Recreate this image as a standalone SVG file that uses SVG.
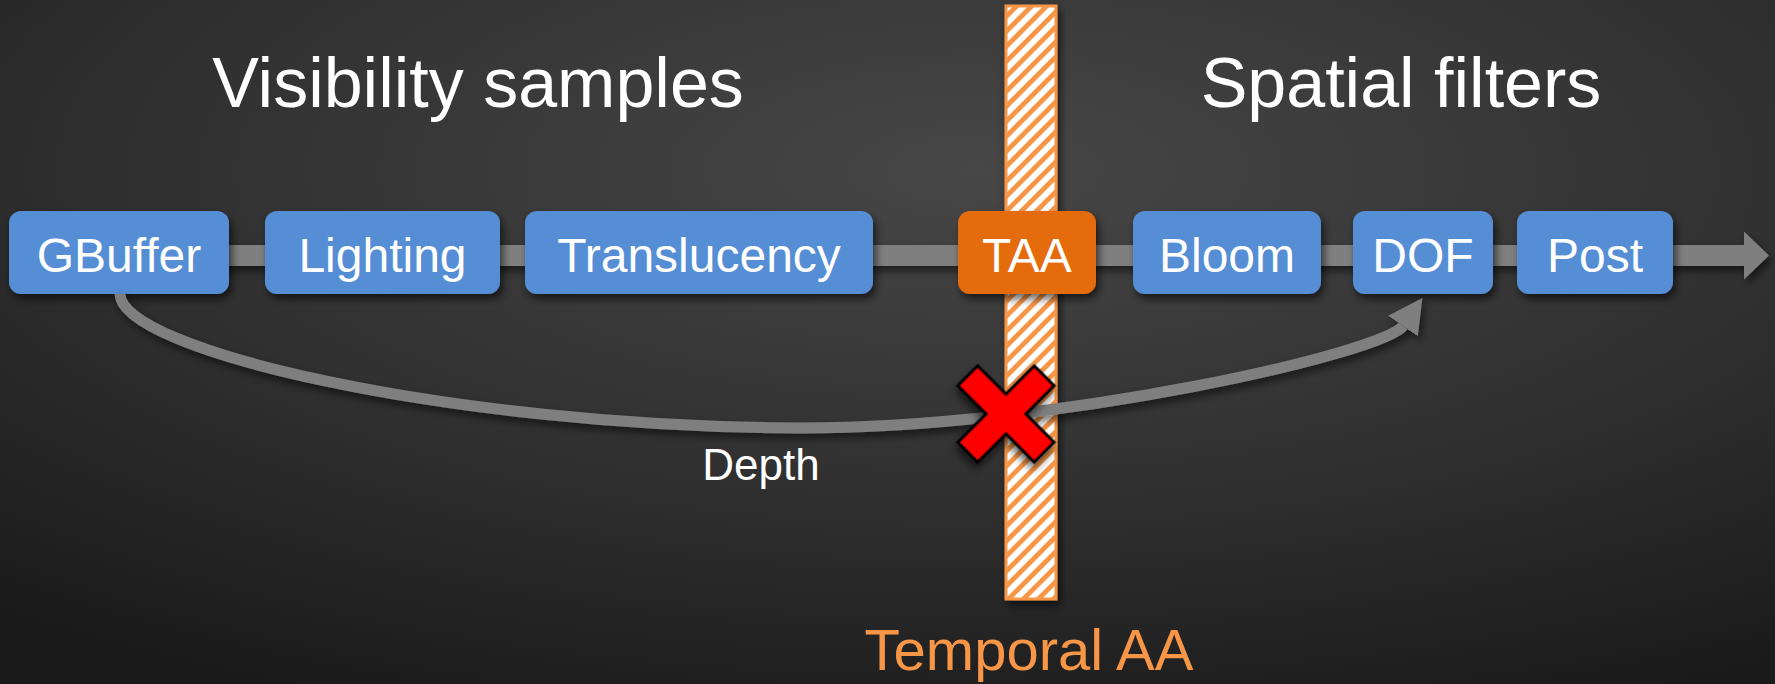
<svg xmlns="http://www.w3.org/2000/svg" width="1775" height="684" viewBox="0 0 1775 684">
<defs>
<radialGradient id="bg" cx="0.55" cy="0.25" r="0.85" gradientUnits="objectBoundingBox">
<stop offset="0" stop-color="#474747"/>
<stop offset="0.6" stop-color="#2e2e2e"/>
<stop offset="1" stop-color="#1a1a1a"/>
</radialGradient>
<pattern id="hatch" patternUnits="userSpaceOnUse" width="10.6" height="10.6" patternTransform="rotate(45)">
<rect x="0" y="0" width="10.6" height="10.6" fill="#ffffff"/>
<rect x="0" y="0" width="4.8" height="10.6" fill="#F79646"/>
</pattern>
<filter id="sh" x="-20%" y="-20%" width="140%" height="160%">
<feDropShadow dx="3" dy="5" stdDeviation="4" flood-color="#000" flood-opacity="0.6"/>
</filter>
<filter id="shc" filterUnits="userSpaceOnUse" x="0" y="0" width="1775" height="684">
<feDropShadow dx="3" dy="5" stdDeviation="4" flood-color="#000" flood-opacity="0.55"/>
</filter>
<marker id="bigHead" markerUnits="userSpaceOnUse" markerWidth="30" markerHeight="50" refX="0" refY="24" orient="auto">
<path d="M0,0 L25,24 L0,48 z" fill="#7f7f7f"/>
</marker>
<marker id="smallHead" markerUnits="userSpaceOnUse" markerWidth="40" markerHeight="40" refX="0" refY="18" orient="auto">
<path d="M0,0 L34,18 L0,36 z" fill="#7f7f7f"/>
</marker>
<style>
.box{fill:#558ED5;filter:url(#sh)}
.taa{fill:#E46C0A;filter:url(#sh)}
.lbl{font-family:"Liberation Sans",Arial,sans-serif;font-size:48px;fill:#ffffff;text-anchor:middle}
.title{font-family:"Liberation Sans",Arial,sans-serif;font-size:70px;fill:#ffffff;text-anchor:middle}
.conn{fill:none;stroke:#7f7f7f;filter:url(#shc)}
</style>
</defs>
<rect x="0" y="0" width="1775" height="684" fill="url(#bg)"/>

<g id="temporal-bar">
<rect x="1006" y="6" width="50" height="593" fill="url(#hatch)" stroke="#F79646" stroke-width="3" filter="url(#sh)"/>
</g>

<g id="connectors">
<path class="conn" d="M20,255.5 L1744,255.5" stroke-width="21" marker-end="url(#bigHead)"/>
</g>

<g id="titles">
<text class="title" x="478" y="107">Visibility samples</text>
<text class="title" x="1401" y="107">Spatial filters</text>
</g>

<g id="node-gbuffer"><rect class="box" x="9" y="211" width="220" height="83" rx="12"/><text class="lbl" x="119" y="272">GBuffer</text></g>
<g id="node-lighting"><rect class="box" x="265" y="211" width="235" height="83" rx="12"/><text class="lbl" x="382.5" y="272">Lighting</text></g>
<g id="node-translucency"><rect class="box" x="525" y="211" width="348" height="83" rx="12"/><text class="lbl" x="699" y="272">Translucency</text></g>
<g id="node-taa"><rect class="taa" x="958" y="211" width="138" height="83" rx="12"/><text class="lbl" x="1027" y="272">TAA</text></g>
<g id="node-bloom"><rect class="box" x="1133" y="211" width="188" height="83" rx="12"/><text class="lbl" x="1227" y="272">Bloom</text></g>
<g id="node-dof"><rect class="box" x="1353" y="211" width="140" height="83" rx="12"/><text class="lbl" x="1423" y="272">DOF</text></g>
<g id="node-post"><rect class="box" x="1517" y="211" width="156" height="83" rx="12"/><text class="lbl" x="1595" y="272">Post</text></g>

<g id="depth-connector">
<path class="conn" d="M120,294 C120,350 450,427 800,428 C1060,428 1385,352 1403,326" stroke-width="11" marker-end="url(#smallHead)"/>
<text x="761" y="480" font-family="'Liberation Sans',Arial,sans-serif" font-size="44" fill="#ffffff" text-anchor="middle">Depth</text>
</g>

<g id="cross">
<polygon transform="translate(1006,414) rotate(45)" points="-14,-54 14,-54 14,-14 54,-14 54,14 14,14 14,54 -14,54 -14,14 -54,14 -54,-14 -14,-14" fill="#ff0000" stroke="#000000" stroke-width="3" stroke-linejoin="miter" filter="url(#sh)"/>
</g>

<g id="temporal-label">
<text x="1029" y="670" font-family="'Liberation Sans',Arial,sans-serif" font-size="58" fill="#F79646" text-anchor="middle">Temporal AA</text>
</g>
</svg>
